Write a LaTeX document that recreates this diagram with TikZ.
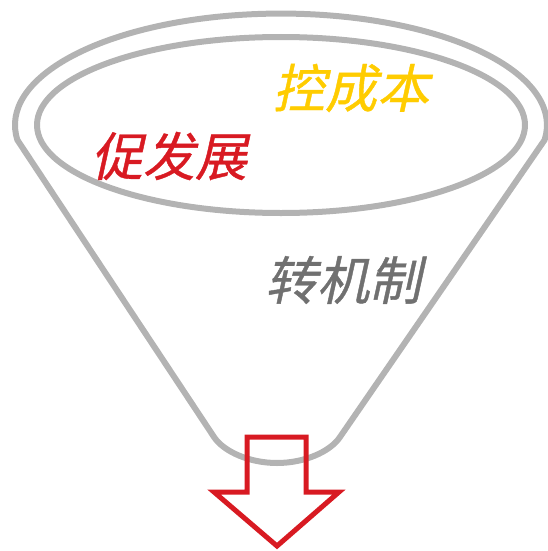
\documentclass[tikz,border=0pt]{standalone}
\usepackage{fontspec}
\usetikzlibrary{shapes.geometric}
\newfontfamily\cjk[FakeSlant=0.22,FakeBold=0.8]{Noto Sans CJK SC}
\definecolor{funnelgray}{RGB}{179,179,179}
\definecolor{arrowred}{RGB}{216,26,34}
\definecolor{goldtxt}{RGB}{255,204,0}
\definecolor{darktxt}{RGB}{112,112,112}
\begin{document}
\begin{tikzpicture}[x=1pt,y=-1pt,
  funnelline/.style={draw=funnelgray,line width=6pt,line join=round},
  arrowline/.style={draw=arrowred,line width=5pt,line join=miter},
  word/.style={font=\cjk\fontsize{52}{52}\selectfont,inner sep=0pt}]
\useasboundingbox (0,0) rectangle (548,551);
% outer funnel
\coordinate (fl) at (17.4,140);
\coordinate (fr) at (544.6,140);
\coordinate (bl) at (214,437);
\coordinate (br) at (340,437);
\coordinate (bm) at (277,463);
\draw[funnelline] (bl) -- (fl)
  arc[start angle=187.7,end angle=-7.7,x radius=266,y radius=-111.5]
  -- (br) .. controls (330,452) and (304,463) .. (bm)
  .. controls (250,463) and (224,452) .. (bl) -- cycle;
% inner ellipse
\node[funnelline,ellipse,minimum width=488pt,minimum height=176pt,inner sep=0pt] (rim) at (281,125) {};
% texts
\node[word,text=goldtxt] (t1) at (351,88) {控成本};
\node[word,text=arrowred] (t2) at (169,156) {促发展};
\node[word,text=darktxt] (t3) at (343,280) {转机制};
% arrow
\draw[arrowline] (247,437) -- (306,437) -- (306,492) -- (339,492) -- (277,546) -- (214,492) -- (247,492) -- cycle;
\end{tikzpicture}
\end{document}
